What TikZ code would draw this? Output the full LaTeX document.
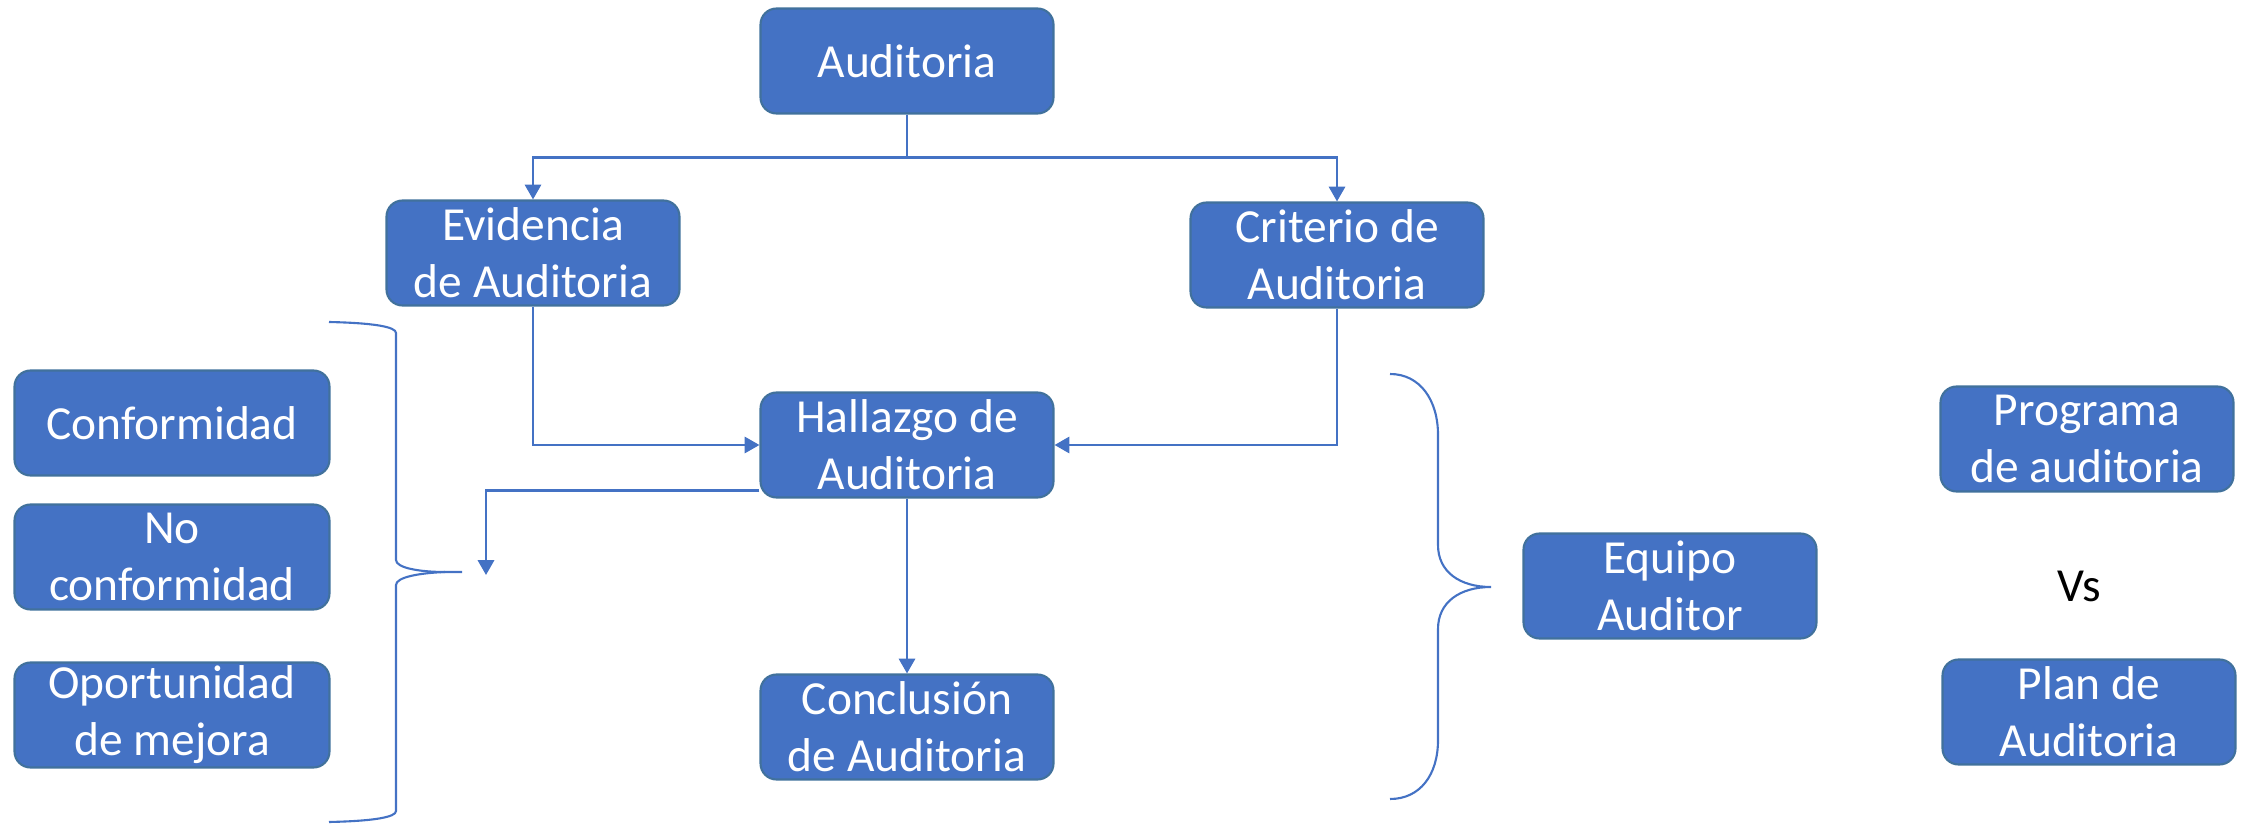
\documentclass[tikz,border=0pt]{standalone}
\usepackage{fontspec}
\setmainfont{Carlito}
\usepackage{tikz}
\usetikzlibrary{positioning,arrows.meta}

\definecolor{boxblue}{HTML}{4472C4}
\definecolor{boxedge}{HTML}{41719C}

\tikzset{
	box/.style={draw=boxedge, fill=boxblue, rounded corners=0.16cm, line width=0.6pt,
		minimum width=2.93cm, minimum height=1.05cm, inner xsep=0pt, inner ysep=0pt,
		align=center, text=white, font=\fontsize{13.5}{16.2}\selectfont},
	widebox/.style={box, minimum width=3.15cm},
	conn/.style={draw=boxblue, line width=0.7pt, -{Triangle[length=4.2pt,width=4.6pt]}},
	curly/.style={draw=boxblue, line width=0.6pt},
}

\begin{document}
\begin{tikzpicture}[on grid]
	\useasboundingbox (0,0) rectangle (22.46,-8.29);

	\node[box] (audit) at (9.07,-0.61) {Auditoria} ; %
	\node[box, below left=1.92cm and 3.74cm of audit] (evid) {Evidencia\\de Auditoria};
	\node[box, below right=1.94cm and 4.30cm of audit] (crit) {Criterio de\\Auditoria};
	\node[box, below=3.84cm of audit] (hall) {Hallazgo de\\Auditoria};
	\node[box, below=2.82cm of hall] (concl) {Conclusión\\de Auditoria};

	% hallazgo types
	\node[widebox] (conf) at (1.72,-4.23) {Conformidad};
	\node[widebox, below=1.34cm of conf] (noconf) {No\\conformidad};
	\node[widebox, below=1.58cm of noconf] (oport) {Oportunidad\\de mejora};
	\coordinate (hallout) at (4.86,-5.75);

	% right side
	\node[box, below right=1.41cm and 7.63cm of hall] (equipo) {Equipo\\Auditor};
	\node[box, above right=1.47cm and 4.17cm of equipo] (prog) {Programa\\de auditoria};
	\node[right=4.09cm of equipo, font=\fontsize{13.5}{16.2}\selectfont] (vs) {Vs};
	\node[box, below right=1.26cm and 4.19cm of equipo] (plan) {Plan de\\Auditoria};

	\draw[conn] (audit.south) -- ++(0,-0.43) -| (evid);
	\draw[conn] (audit.south) -- ++(0,-0.43) -| (crit);
	\draw[conn] (evid.south) |- (hall.west);
	\draw[conn] (crit.south) |- (hall.east);
	\draw[conn] (hall) -- (concl);
	\draw[conn] ([yshift=0.08cm]hall.south west) -| (hallout);

	% braces
	\draw[curly] (3.29,-3.22) .. controls (3.75,-3.23) and (3.96,-3.27) .. (3.96,-3.33)
		-- (3.96,-5.60) .. controls (3.96,-5.68) and (4.20,-5.72) .. (4.45,-5.72) -- (4.62,-5.72);
	\draw[curly] (4.45,-5.72) .. controls (4.20,-5.73) and (3.96,-5.77) .. (3.96,-5.85)
		-- (3.96,-8.11) .. controls (3.96,-8.17) and (3.75,-8.21) .. (3.29,-8.22);
	\draw[curly] (13.90,-3.74) .. controls (14.20,-3.74) and (14.38,-4.00) .. (14.38,-4.35)
		-- (14.38,-5.45) .. controls (14.38,-5.72) and (14.60,-5.87) .. (14.91,-5.87)
		.. controls (14.60,-5.87) and (14.38,-6.02) .. (14.38,-6.29)
		-- (14.38,-7.40) .. controls (14.38,-7.75) and (14.20,-7.99) .. (13.90,-7.99);

\end{tikzpicture}
\end{document}
